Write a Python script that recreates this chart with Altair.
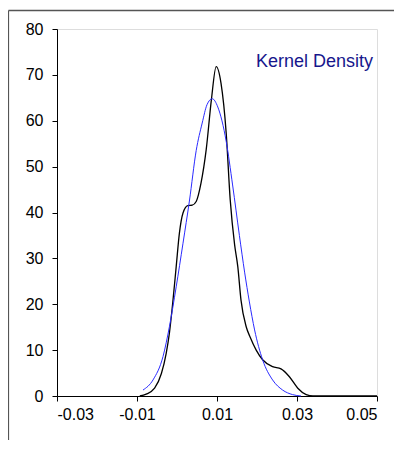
import altair as alt
import pandas as pd

# Kernel density curve (black)
kd_x = [-0.0093, -0.0077, -0.0056, -0.0039, -0.0027, -0.0019, -0.0010, -0.0002,
        0.0006, 0.0015, 0.0027, 0.0038, 0.0048, 0.0060, 0.0073, 0.0086, 0.0098,
        0.0110, 0.0123, 0.0133, 0.0144, 0.0152, 0.0160, 0.0173, 0.0183, 0.0198,
        0.0214, 0.0239, 0.0260, 0.0281, 0.0302, 0.0323, 0.0340, 0.0500]
kd_y = [0.0, 0.4, 1.7, 4.9, 9.3, 13.7, 20.9, 28.2,
        35.5, 39.9, 41.5, 41.6, 42.4, 46.4, 53.7, 64.6, 71.8,
        68.2, 57.3, 42.8, 33.0, 28.2, 20.9, 15.1, 12.8, 10.0,
        7.9, 6.4, 5.9, 4.2, 1.7, 0.3, 0.0, 0.0]

# Normal fit curve (blue)
nf_x = [-0.0085, -0.0060, -0.0035, -0.0019, -0.0002, 0.0015, 0.0031, 0.0048,
        0.0063, 0.0075, 0.0088, 0.0102, 0.0123, 0.0139, 0.0156, 0.0169, 0.0181,
        0.0194, 0.0214, 0.0239, 0.0264, 0.0289, 0.0310]
nf_y = [1.3, 3.5, 8.6, 15.1, 23.8, 33.3, 42.5, 53.5,
        59.5, 63.5, 64.8, 63.0, 55.5, 46.0, 35.0, 27.0, 20.5,
        14.4, 7.9, 3.5, 1.3, 0.3, 0.0]

x_ticks = [-0.03, -0.01, 0.01, 0.03, 0.05]
y_ticks = [0, 10, 20, 30, 40, 50, 60, 70, 80]
label_text = "Kernel Density"

kd = pd.DataFrame({"x": kd_x, "y": kd_y})
nf = pd.DataFrame({"x": nf_x, "y": nf_y})

FONT = "Liberation Sans"

xscale = alt.Scale(domain=[-0.03, 0.05], nice=False, zero=False)
yscale = alt.Scale(domain=[0, 80], nice=False)

xaxis = alt.Axis(values=x_ticks, title=None, grid=False,
                 labelExpr="replace(format(datum.value, '.2f'), '\u2212', '-')",
                 tickSize=5, labelPadding=5, domainColor="black", tickColor="black",
                 labelColor="black", labelFont=FONT, labelFontSize=16)
yaxis = alt.Axis(values=y_ticks, title=None, grid=False, tickSize=5, labelPadding=9,
                 domainColor="black", tickColor="black", labelColor="black",
                 labelFont=FONT, labelFontSize=16)

black = alt.Chart(kd).mark_line(color="black", strokeWidth=1.3, interpolate="monotone").encode(
    x=alt.X("x:Q", scale=xscale, axis=xaxis),
    y=alt.Y("y:Q", scale=yscale, axis=yaxis),
)
blue = alt.Chart(nf).mark_line(color="#2a2aff", strokeWidth=1, interpolate="monotone").encode(
    x=alt.X("x:Q", scale=xscale),
    y=alt.Y("y:Q", scale=yscale),
)

one = pd.DataFrame({"a": [0]})
frame_top = alt.Chart(one).mark_rule(color="#555555", strokeWidth=1.5).encode(
    x=alt.value(-48.5), x2=alt.value(340), y=alt.value(-18.5))
frame_left = alt.Chart(one).mark_rule(color="#555555", strokeWidth=1.2).encode(
    x=alt.value(-48.5), y=alt.value(-18.5), y2=alt.value(420))

label = alt.Chart(pd.DataFrame({"t": [label_text]})).mark_text(
    align="right", baseline="alphabetic", font=FONT, fontSize=18, color="#16168c"
).encode(text="t:N", x=alt.value(316), y=alt.value(38))

chart = alt.layer(frame_top, frame_left, black, blue, label).properties(
    width=320, height=367,
    autosize=alt.AutoSizeParams(type="none"),
    padding={"left": 49, "top": 21, "right": 17, "bottom": 44},
).configure_view(stroke="#999999", strokeWidth=2).configure(background="white")

chart.save("out.html", embed_options={"renderer": "svg", "actions": False})
